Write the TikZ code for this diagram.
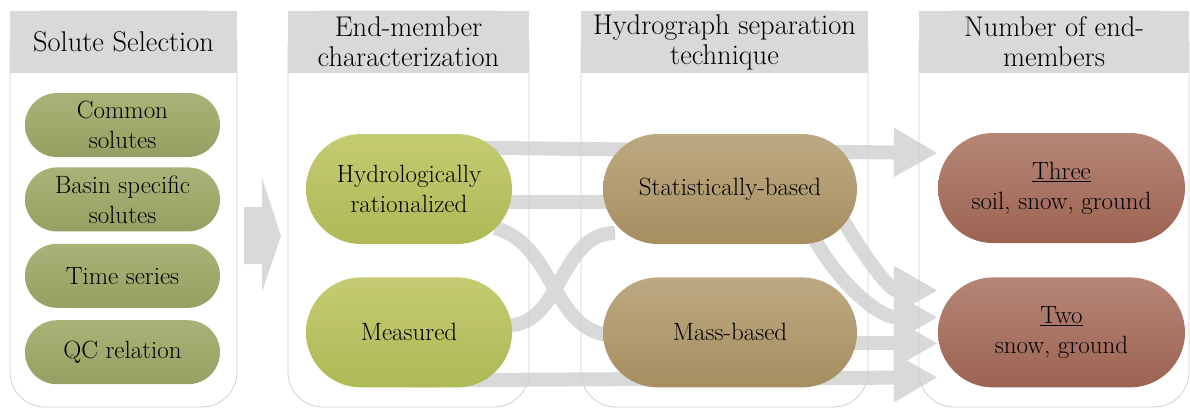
\documentclass[tikz,border=0pt]{standalone}
\usepackage{fontspec}
\setmainfont{Latin Modern Roman}
\usetikzlibrary{arrows.meta,positioning,backgrounds}

\definecolor{bandgray}{HTML}{D9D9D9}
\definecolor{headgray}{HTML}{D9D9D9}
\definecolor{panelgray}{HTML}{D0D0D0}
\definecolor{solutetop}{HTML}{ABB277}
\definecolor{solutebot}{HTML}{989F62}
\definecolor{membertop}{HTML}{C4CB72}
\definecolor{memberbot}{HTML}{AFB956}
\definecolor{techtop}{HTML}{BDA982}
\definecolor{techbot}{HTML}{A78E61}
\definecolor{counttop}{HTML}{B68676}
\definecolor{countbot}{HTML}{9C6352}

\begin{document}
\begin{tikzpicture}[%
    x=1pt, y=-1pt,              % pixel-like units, counted from the top
    >={Triangle[width=46pt,length=44pt]}, % fat block arrow heads
    node distance=12pt,         % gap between stacked boxes
    ]
% -------------------------------------------------
% A few box styles
\tikzset{
  base/.style={align=center, inner sep=0pt},
  head/.style={base, fill=headgray, minimum height=62pt,
    font=\fontsize{28.5}{30}\selectfont},
  panel/.style={draw=panelgray, line width=0.8pt, rounded corners=35pt},
  pill/.style={base, minimum height=110pt, rounded corners=55pt,
    font=\fontsize{25}{30}\selectfont},
  solute/.style={pill, minimum width=195pt, minimum height=64pt,
    rounded corners=32pt, top color=solutetop, bottom color=solutebot},
  member/.style={pill, minimum width=206pt,
    top color=membertop, bottom color=memberbot},
  tech/.style={pill, minimum width=254pt,
    top color=techtop, bottom color=techbot},
  count/.style={pill, minimum width=247pt,
    top color=counttop, bottom color=countbot},
  % Connector line styles
  band/.style={draw=bandgray, line width=14pt},
  arr/.style={band, ->},
}

\useasboundingbox (0,0) rectangle (1190,409);

% -------------------------------------------------
% The four columns
\draw[panel] (10,11) rectangle (237,407);
\draw[panel] (288,11) rectangle (529,407);
\draw[panel] (581,11) rectangle (868,407);
\draw[panel] (919,11) rectangle (1189,407);

\node [head, minimum width=227pt] (h1) at (123.5,42) {Solute Selection};
\node [head, minimum width=241pt] (h2) at (408.5,42) {End-member\\characterization};
\node [head, minimum width=287pt] (h3) at (724.5,42) {Hydrograph separation\\technique};
\node [head, minimum width=270pt] (h4) at (1054,42) {Number of end-\\members};

% -------------------------------------------------
% Solutes
\node [solute] (common) at (122.5,125) {Common\\solutes};
\node [solute, below=10pt of common] (basin) {Basin specific\\solutes};
\node [solute, below=of basin] (series) {Time series};
\node [solute, below=of series] (qc) {QC relation};

% hand-over to the next column
\fill[bandgray] (244,207) -- (262,207) -- (262,178) -- (281,236)
  -- (262,292) -- (262,264) -- (244,264) -- cycle;

% End-members, techniques, counts
\node [member] (hydro) at (409,189) {Hydrologically\\rationalized};
\node [member, below=33pt of hydro] (measured) {Measured};
\node [tech] (stat) at (730,189) {Statistically-based};
\node [tech, below=33pt of stat] (mass) {Mass-based};
\node [count] (three) at (1061.5,188) {\underline{Three}\\soil, snow, ground};
\node [count, below=34pt of three] (two) {\underline{Two}\\snow, ground};

% -------------------------------------------------
% Flows, kept behind the boxes
\begin{scope}[on background layer]
\draw[arr] ([yshift=42pt]hydro.center) to ([yshift=35pt]three.west);
\draw[band] ([yshift=-13pt]hydro.center) to ([yshift=-13pt]stat.center);
\draw[band] ([xshift=86pt,yshift=-39pt]hydro.center)
  to[out=-15,in=180] ([xshift=-115pt,yshift=-3pt]mass.center);
\draw[band] ([xshift=98pt,yshift=7pt]measured.center)
  to[out=0,in=180] ([xshift=-115pt,yshift=-44pt]stat.center);
\draw[arr] ([yshift=-48pt]measured.center) to ([yshift=-45pt]two.west);
\draw[arr] ([xshift=110pt,yshift=-26pt]stat.center)
  to[out=-60,in=180] ([yshift=42pt]two.west);
\draw[arr] ([xshift=85pt,yshift=-51pt]stat.center)
  to[out=-60,in=180] ([yshift=15pt]two.west);
\draw[arr] ([yshift=-11pt]mass.center) to ([yshift=-11pt]two.west);
\end{scope}

% -------------------------------------------------
\end{tikzpicture}
\end{document}
